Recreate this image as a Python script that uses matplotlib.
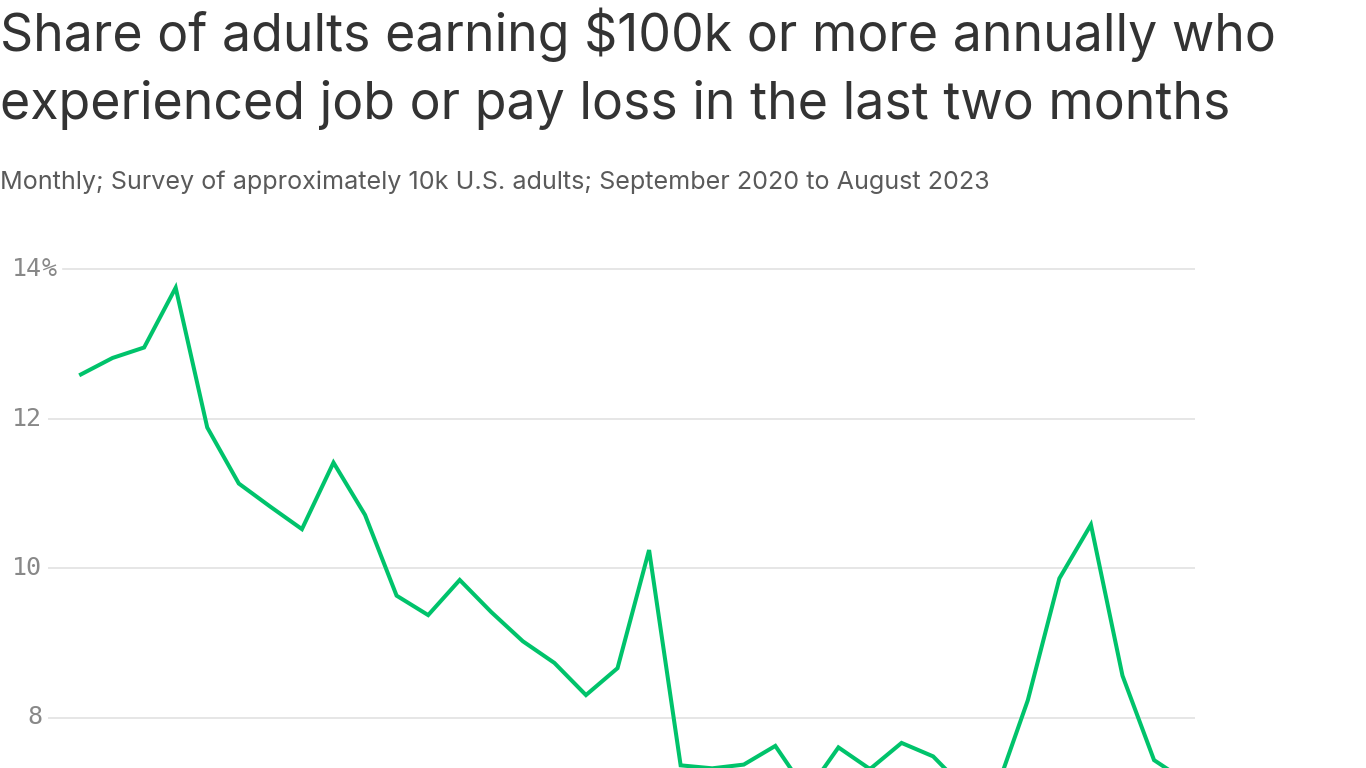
import matplotlib
matplotlib.use('Agg')
import matplotlib.pyplot as plt
import matplotlib.transforms as mtransforms

# Monthly share (%) of adults earning $100k+ who lost job or pay, Sep 2020 - Aug 2023
months = ['Sep 2020', 'Oct 2020', 'Nov 2020', 'Dec 2020', 'Jan 2021', 'Feb 2021',
          'Mar 2021', 'Apr 2021', 'May 2021', 'Jun 2021', 'Jul 2021', 'Aug 2021',
          'Sep 2021', 'Oct 2021', 'Nov 2021', 'Dec 2021', 'Jan 2022', 'Feb 2022',
          'Mar 2022', 'Apr 2022', 'May 2022', 'Jun 2022', 'Jul 2022', 'Aug 2022',
          'Sep 2022', 'Oct 2022', 'Nov 2022', 'Dec 2022', 'Jan 2023', 'Feb 2023',
          'Mar 2023', 'Apr 2023', 'May 2023', 'Jun 2023', 'Jul 2023', 'Aug 2023']
share = [12.59, 12.81, 12.95, 13.75, 11.88, 11.13, 10.82, 10.52, 11.41, 10.71,
         9.63, 9.37, 9.84, 9.41, 9.02, 8.73, 8.30, 8.66, 10.24, 7.36,
         7.32, 7.37, 7.62, 7.00, 7.60, 7.31, 7.66, 7.48, 7.05, 7.03,
         8.23, 9.86, 10.58, 8.56, 7.43, 7.15]
y_ticks = [8, 10, 12, 14]

W, H = 1366, 768
fig = plt.figure(figsize=(W / 100, H / 100), dpi=100)
fig.patch.set_facecolor('white')

# plot area in pixels: x 48..1195, y value 14 at px 269, 74.75 px per point
left_px, right_px = 48, 1195
px_per_unit = 74.75
ymin, ymax = 6.0, 14.4
top_px = 269 - (ymax - 14) * px_per_unit
bottom_px = 269 + (14 - ymin) * px_per_unit
ax = fig.add_axes([left_px / W, 1 - bottom_px / H,
                   (right_px - left_px) / W, (bottom_px - top_px) / H])
ax.set_ylim(ymin, ymax)
step = 31.56
ax.set_xlim(-(81 - left_px) / step, len(months) - 1 + (right_px - 1185.6) / step)
ax.axis('off')

grid_color = '#e2e2e2'
for t in y_ticks:
    start = 63 if t == 14 else 48
    ax.axhline(t, xmin=(start - left_px) / (right_px - left_px), xmax=1,
               color=grid_color, lw=1.2, zorder=1)

ax.plot(range(len(months)), share, color='#00c36b', lw=2.9,
        solid_joinstyle='miter', zorder=3)

trans = mtransforms.blended_transform_factory(fig.transFigure, ax.transData)
for t in y_ticks:
    ax.text(42 / W, t, str(t), transform=trans, ha='right', va='center',
            fontsize=18, family='DejaVu Sans Mono', color='#888888')
ax.text(42 / W, 14, '%', transform=trans, ha='left', va='center',
        fontsize=18, family='DejaVu Sans Mono', color='#888888')

fig.text(0, 1 - 35 / H, 'Share of adults earning $100k or more annually who',
         ha='left', va='center', fontsize=37.3, family='Inter', color='#333333')
fig.text(0, 1 - 105 / H, 'experienced job or pay loss in the last two months',
         ha='left', va='center', fontsize=37.3, family='Inter', color='#333333')
fig.text(0, 1 - 182 / H,
         'Monthly; Survey of approximately 10k U.S. adults; September 2020 to August 2023',
         ha='left', va='center', fontsize=18.1, family='Inter', color='#5a5a5a')

fig.savefig('out.png', dpi=100, facecolor='white')
